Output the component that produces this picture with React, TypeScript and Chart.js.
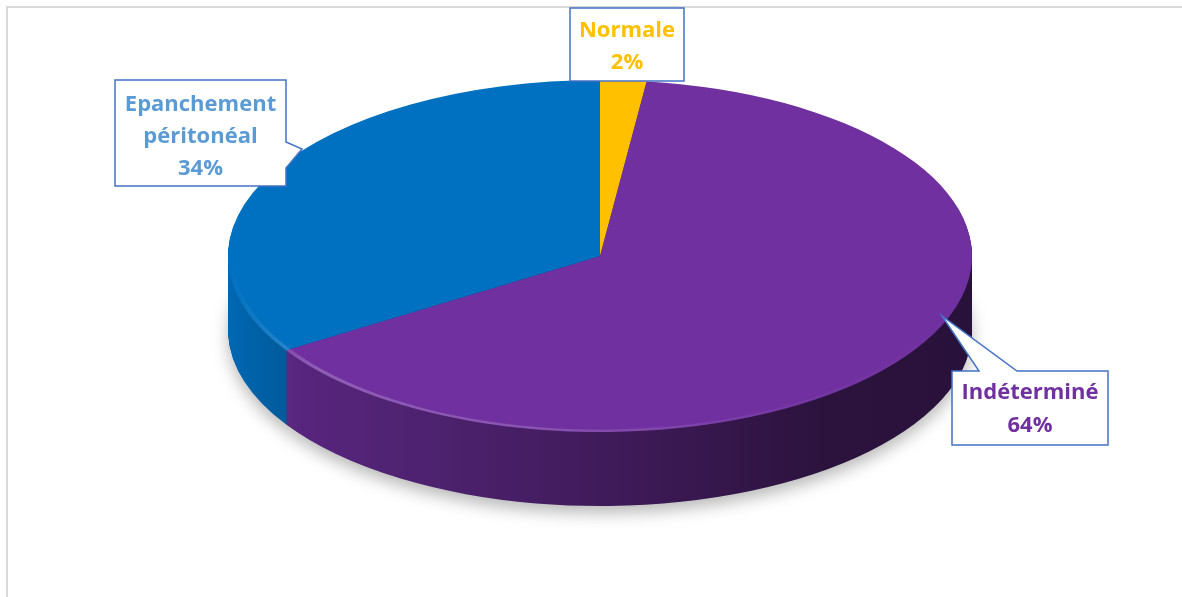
import React, { useEffect, useRef } from "react";
import { Chart, registerables } from "chart.js";

Chart.register(...registerables);

// ---- data ----
const categories = ["Normale", "Indéterminé", "Epanchement péritonéal"];
const values = [2, 64, 34];
const sliceColors = ["#FFC000", "#7030A0", "#0070C0"];
const labelColors = ["#FFC000", "#7030A0", "#5B9BD5"];
const labelLines = [["Normale"], ["Indéterminé"], ["Epanchement", "péritonéal"]];

// ---- layout (screen pixels) ----
const W = 1182;
const H = 597;
const CX = 600;
const CY = 256;
const RX = 372;
const RY = 176;
const DEPTH = 74;

type Callout = { poly: number[][]; cx: number; baseline: number; lh: number };
const callouts: Callout[] = [
  { poly: [[570, 8], [684, 8], [684, 81], [570, 81]], cx: 627, baseline: 37, lh: 31.5 },
  {
    poly: [[952, 371], [979, 371], [942, 316], [1017, 371], [1108, 371], [1108, 445], [952, 445]],
    cx: 1030,
    baseline: 399,
    lh: 33,
  },
  {
    poly: [[115, 80], [286, 80], [286, 142], [302, 149], [286, 168], [286, 186], [115, 186]],
    cx: 200.5,
    baseline: 111,
    lh: 32,
  },
];

function hexToRgb(h: string) {
  const n = parseInt(h.slice(1), 16);
  return [(n >> 16) & 255, (n >> 8) & 255, n & 255];
}

const sideStops: [number, number][] = [
  [0, 0.93],
  [0.05, 0.85],
  [0.1, 0.78],
  [0.26, 0.7],
  [0.5, 0.57],
  [0.8, 0.39],
  [1, 0.36],
];

function applyT(ctx: CanvasRenderingContext2D, arc: any, dy: number) {
  const R = arc.outerRadius;
  ctx.translate(CX, CY + dy);
  ctx.scale(RX / R, RY / R);
  ctx.translate(-arc.x, -arc.y);
}

const pie3d = {
  id: "pie3d",
  beforeDatasetsDraw(chart: any) {
    const ctx: CanvasRenderingContext2D = chart.ctx;
    const meta = chart.getDatasetMeta(0);
    const arcs = meta.data;
    if (!arcs.length) return;
    const a0 = arcs[0];
    const R = a0.outerRadius;
    const grads = arcs.map((arc: any, i: number) => {
      const [r, g, b] = hexToRgb(sliceColors[i]);
      const gr = ctx.createLinearGradient(a0.x - R, 0, a0.x + R, 0);
      sideStops.forEach(([t, f]) => {
        gr.addColorStop(t, `rgb(${Math.round(r * f)},${Math.round(g * f)},${Math.round(b * f)})`);
      });
      return gr;
    });
    for (let d = DEPTH; d >= 1; d--) {
      ctx.save();
      if (d === DEPTH) {
        ctx.shadowColor = "rgba(0,0,0,0.28)";
        ctx.shadowBlur = 16;
        ctx.shadowOffsetY = 7;
      }
      applyT(ctx, a0, d);
      arcs.forEach((arc: any, i: number) => {
        const fake = Object.create(arc);
        fake.options = { ...arc.options, backgroundColor: grads[i], borderWidth: 0 };
        fake.draw(ctx);
      });
      ctx.restore();
    }
    ctx.save();
    applyT(ctx, a0, 0);
  },
  afterDatasetsDraw(chart: any) {
    const ctx: CanvasRenderingContext2D = chart.ctx;
    const meta = chart.getDatasetMeta(0);
    const a0 = meta.data[0];
    if (!a0) return;
    const R = a0.outerRadius;
    // subtle bevel highlight along the front edge
    ctx.beginPath();
    ctx.arc(a0.x, a0.y, R, 0.08, Math.PI - 0.08);
    ctx.arc(a0.x, a0.y, R - 4, Math.PI - 0.08, 0.08, true);
    ctx.closePath();
    const hg = ctx.createLinearGradient(a0.x - R, 0, a0.x + R, 0);
    hg.addColorStop(0, "rgba(255,255,255,0.0)");
    hg.addColorStop(0.12, "rgba(255,255,255,0.22)");
    hg.addColorStop(0.4, "rgba(255,255,255,0.18)");
    hg.addColorStop(0.75, "rgba(255,255,255,0.04)");
    hg.addColorStop(1, "rgba(255,255,255,0)");
    ctx.fillStyle = hg;
    ctx.fill();
    ctx.restore();
  },
};

const callout = {
  id: "callout",
  afterDraw(chart: any) {
    const ctx: CanvasRenderingContext2D = chart.ctx;
    const total = values.reduce((s, v) => s + v, 0);
    callouts.forEach((c, i) => {
      ctx.save();
      ctx.beginPath();
      c.poly.forEach(([x, y], k) => (k ? ctx.lineTo(x, y) : ctx.moveTo(x, y)));
      ctx.closePath();
      ctx.fillStyle = "#ffffff";
      ctx.fill();
      ctx.lineWidth = 1.5;
      ctx.strokeStyle = "#4472C4";
      ctx.stroke();
      const lines = [...labelLines[i], Math.round((values[i] / total) * 100) + "%"];
      ctx.fillStyle = labelColors[i];
      ctx.font = 'bold 22px "Open Sans"';
      ctx.textAlign = "center";
      ctx.textBaseline = "alphabetic";
      lines.forEach((t, k) => ctx.fillText(t, c.cx, c.baseline + k * c.lh));
      ctx.restore();
    });
  },
};

export default function App() {
  const ref = useRef<HTMLCanvasElement>(null);
  useEffect(() => {
    if (!ref.current) return;
    const chart = new Chart(ref.current, {
      type: "pie",
      data: {
        labels: categories,
        datasets: [
          {
            data: values,
            backgroundColor: sliceColors,
            borderWidth: 0,
            clip: false as any,
          },
        ],
      },
      options: {
        responsive: false,
        animation: false,
        devicePixelRatio: 1,
        events: [],
        layout: { padding: 0 },
        plugins: { legend: { display: false }, tooltip: { enabled: false } },
      },
      plugins: [pie3d, callout],
    });
    return () => chart.destroy();
  }, []);
  return (
    <div>
      <div
        style={{
          position: "fixed",
          left: 6,
          top: 6,
          width: 1300,
          height: 700,
          borderTop: "2px solid #d9d9d9",
          borderLeft: "2px solid #d9d9d9",
        }}
      />
      <canvas
        ref={ref}
        width={W}
        height={H}
        style={{ position: "fixed", left: 0, top: 0, width: W, height: H }}
      />
    </div>
  );
}
